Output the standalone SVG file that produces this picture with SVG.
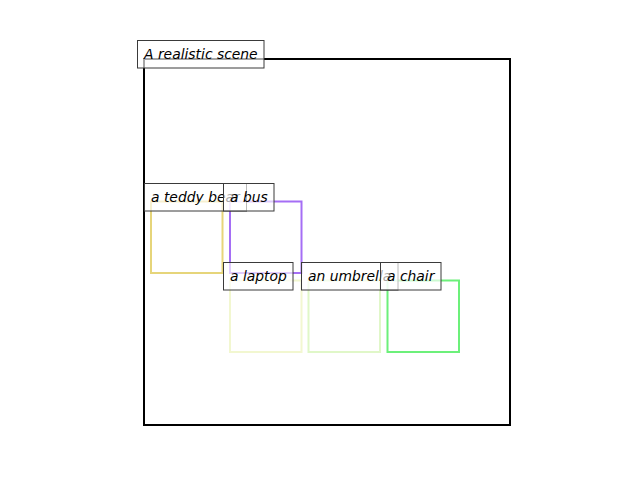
<svg xmlns="http://www.w3.org/2000/svg" width="640" height="480" viewBox="0 0 640 480">
<style>
.obj{fill:none;stroke-width:2}
.lb rect{fill:#fff;fill-opacity:0.65;stroke:#3a3a3a;stroke-width:1}
.lb text{font-family:"DejaVu Sans",sans-serif;font-style:oblique;font-size:13.89px;fill:#000}
</style>
<rect x="0" y="0" width="640" height="480" fill="#fff"/>
<g id="scene"><rect x="144" y="59" width="366" height="366" fill="none" stroke="#000" stroke-width="2"/></g>
<g id="objects">
<rect id="teddy-box" class="obj" x="151" y="201.5" width="71.5" height="71.5" stroke="#e6d57a"/>
<rect id="bus-box" class="obj" x="230" y="201.5" width="71.5" height="71.5" stroke="#a56ef5"/>
<rect id="laptop-box" class="obj" x="230" y="280.5" width="71.5" height="71.5" stroke="#f2f7d0"/>
<rect id="umbrella-box" class="obj" x="308.5" y="280.5" width="71.5" height="71.5" stroke="#e0f7c8"/>
<rect id="chair-box" class="obj" x="387.5" y="280.5" width="71.5" height="71.5" stroke="#6cf07a"/>
</g>
<g id="label-scene" class="lb"><rect x="137.5" y="40.5" width="126.5" height="27.5"/><text x="144" y="58.5">A realistic scene</text></g>
<g id="label-teddy" class="lb"><rect x="144.5" y="183.5" width="102" height="27.5"/><text x="151" y="201.5">a teddy bear</text></g>
<g id="label-bus" class="lb"><rect x="223.5" y="183.5" width="50.5" height="27.5"/><text x="230" y="201.5">a bus</text></g>
<g id="label-laptop" class="lb"><rect x="223.5" y="262.5" width="69.5" height="27.5"/><text x="230" y="280.5">a laptop</text></g>
<g id="label-umbrella" class="lb"><rect x="301.5" y="262.5" width="96.5" height="27.5"/><text x="308" y="280.5">an umbrella</text></g>
<g id="label-chair" class="lb"><rect x="380.5" y="262.5" width="60.5" height="27.5"/><text x="387" y="280.5">a chair</text></g>
</svg>
